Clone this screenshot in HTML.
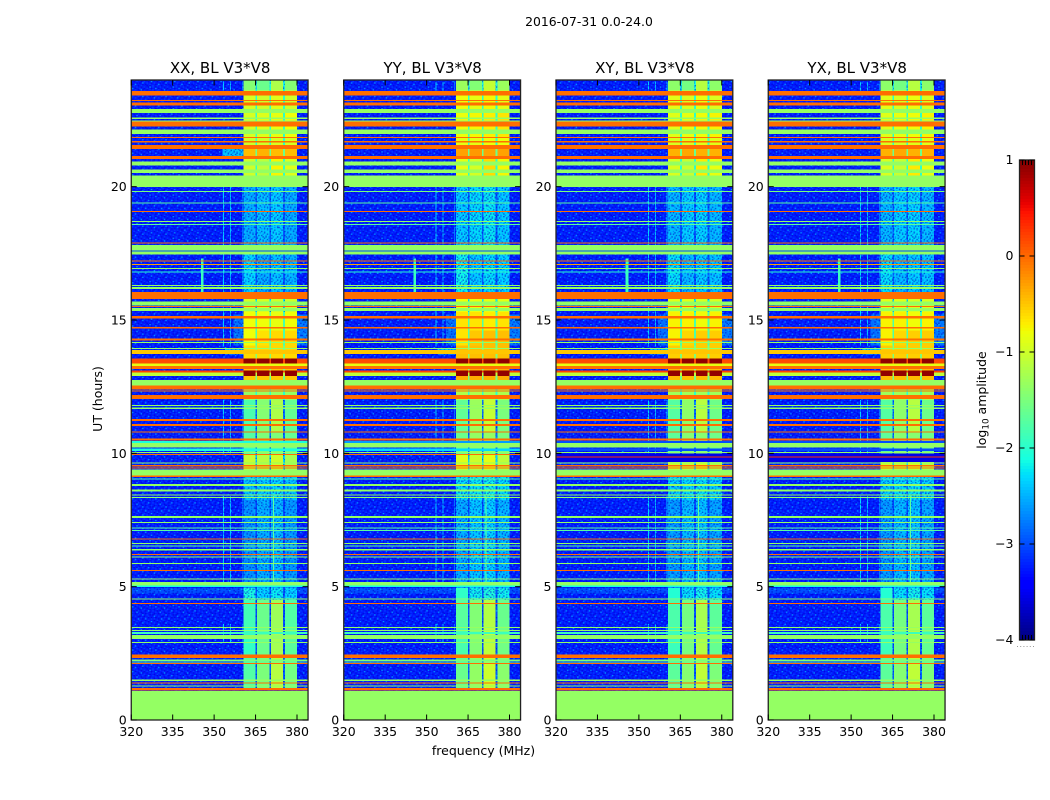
<!DOCTYPE html>
<html lang="en">
<head>
<meta charset="utf-8">
<title>2016-07-31 dynamic spectra, BL V3*V8</title>
<style>
html,body{margin:0;padding:0;background:#fff;width:1050px;height:800px;overflow:hidden}
svg{display:block}
text{font-family:"DejaVu Sans","Liberation Sans",sans-serif;fill:#000}
</style>
</head>
<body>
<svg id="fig" xmlns="http://www.w3.org/2000/svg" width="1050" height="800" viewBox="0 0 1050 800">
  <rect width="1050" height="800" fill="#fff"/>
  <defs id="defs"></defs>
  <text x="589" y="26" font-size="12.4" text-anchor="middle">2016-07-31 0.0-24.0</text>
  <text x="483.5" y="755" font-size="12.5" text-anchor="middle">frequency (MHz)</text>
  <text transform="translate(102,399) rotate(-90)" font-size="12.5" text-anchor="middle">UT (hours)</text>
  <text transform="translate(986,400) rotate(-90)" font-size="12.5" text-anchor="middle">log<tspan font-size="8.8" dy="2.5">10</tspan><tspan dy="-2.5"> amplitude</tspan></text>
  <g id="panels"></g>
  <g id="colorbar"></g>
</svg>
<script>
// ---- chart data (hours UT, MHz, log10 amplitude) ----
const panelTitles = ['XX, BL V3*V8', 'YY, BL V3*V8', 'XY, BL V3*V8', 'YX, BL V3*V8'];
const xTicks = [320, 335, 350, 365, 380];
const yTicks = [0, 5, 10, 15, 20];
const cbarTicks = [1, 0, -1, -2, -3, -4];
const freqRange = [320, 384];
const timeRange = [0, 24];
const ampRange = [-4, 1];
const backgroundLevel = -3.25;
const subbands = [[360.6, 364.9], [365.6, 370], [370.6, 374.9], [375.6, 380]];
const panelBandGain = [0, 0.14, 0.06, 0.06];

// uStart, uEnd, sub-band 1..4 levels, gap level
const bandEpochs = [
  [24, 23.6, -1.45, -1.6, -1.2, -1.45, -2.1],
  [23.6, 22.76, -0.95, -1.0, -0.9, -1.0, -2.0],
  [22.76, 21.86, -0.95, -0.9, -0.85, -0.8, -2.0],
  [21.86, 21.41, -1.0, -1.0, -0.95, -0.95, -2.0],
  [21.41, 21.15, -0.45, -0.4, -0.45, -0.45, -1.6],
  [21.15, 20.4, -1.0, -1.1, -0.75, -0.9, -2.0],
  [20.4, 17.8, -2.5, -2.4, -2.35, -2.5, -2.95],
  [17.8, 16.05, -2.3, -2.5, -2.4, -2.45, -2.95],
  [16.05, 15.3, -0.95, -0.95, -1.0, -1.0, -2.2],
  [15.3, 14.6, -0.8, -0.8, -0.85, -0.8, -1.8],
  [14.6, 14.05, -0.8, -0.65, -0.6, -0.6, -1.8],
  [14.05, 13.37, -0.6, -0.6, -0.6, -0.6, -1.5],
  [13.37, 12.9, -0.5, -0.5, -0.5, -0.5, -1.5],
  [12.9, 12.75, -0.5, -0.5, -0.5, -0.5, -1.6],
  [12.75, 12, -1.35, -1.35, -1.35, -1.35, -2.0],
  [12, 10.8, -1.8, -1.45, -1.2, -1.65, -2.8],
  [10.8, 9.95, -1.75, -1.5, -1.5, -1.65, -2.8],
  [9.95, 9.15, -1.05, -1.15, -1.0, -1.25, -2.3],
  [9.15, 8.25, -2.4, -2.35, -2.3, -2.4, -2.85],
  [8.25, 4.95, -2.65, -2.5, -2.45, -2.6, -3.05],
  [4.95, 4.5, -2.1, -2.3, -2.2, -2.3, -2.95],
  [4.5, 3.5, -1.85, -1.6, -1.3, -1.75, -3.0],
  [3.5, 2.45, -1.95, -1.6, -1.25, -1.7, -3.0],
  [2.45, 1.1, -1.75, -1.5, -1.15, -1.55, -2.9]
];

// fStart, fEnd, uStart, uEnd, level, panels: localized emission outside the band
const glowPatches = [
  [353, 360.6, 21.41, 21.15, -2.4, [0]],
  [354, 360.6, 13.95, 13.7, -2.4, [0, 1, 2, 3]],
  [357, 360.6, 15.2, 14.05, -2.8, [0, 1, 2, 3]],
  [380, 384, 15.2, 14.05, -2.75, [0, 1, 2, 3]],
  [345.2, 346.2, 17.3, 16.0, -1.9, [0, 1, 2, 3]],
  [320, 384, 4.95, 4.75, -3.0, [0, 1, 2, 3]]
];
const rfiLines = [[353.3, -2.3], [355.8, -2.4], [360, -2.3]];
const rfiSpans = [[23.95, 23.6], [20, 15.9], [15.5, 14], [12, 10], [8.4, 5.05], [3.6, 2.9]];
const bandLine = [371.4, 8.4, 5.05, -1.7];

const G = -1.35, O = -0.03, P = -1.7, C = -2.1;
// uStart, uEnd, level: broadband rows across all channels
const flagRows = [
  [23.58,23.41,O],[23.25,23.21,O],[23.15,23.04,O],[22.91,22.76,G],[22.59,22.53,G],[22.49,22.44,G],
  [22.44,22.26,O],[22.14,21.98,G],[21.86,21.83,O],[21.72,21.65,O],[21.56,21.41,O],[21.15,21.04,O],
  [20.95,20.79,G],[20.64,20.51,G],[20.41,19.99,G],[19.84,19.80,-1.5],[19.40,19.36,P],[19.09,19.05,O],
  [18.71,18.68,G],[18.6,18.56,P],[17.91,17.89,O],[17.81,17.6,G],[17.6,17.56,-3],[17.56,17.46,G],
  [17.24,17.20,O],[17.1,17.06,-0.3],[16.95,16.91,G],[16.81,16.78,-2],[16.31,16.28,G],[16.23,16.16,G],
  [16.05,15.79,O],[15.70,15.55,G],[15.53,15.49,O],[15.45,15.34,G],[15.15,15.05,O],[14.73,14.69,O],
  [14.31,14.24,O],[14.18,14.14,G],[13.95,13.91,G],[13.88,13.73,-0.5],[13.55,13.37,0.15],[13.37,13.22,-0.85],
  [13.28,13.16,-0.05],[13.10,13.03,0.2],[13.03,12.9,-1.1],[12.75,12.55,G],[12.54,12.40,O],[12.36,12.32,O],
  [12.19,12.04,O],[11.81,11.78,G],[11.71,11.67,G],[11.29,11.21,O],[11.10,11.03,O],[10.82,10.79,O],
  [10.56,10.49,O],[10.38,10.21,G],[10.05,10.01,G],[9.98,9.94,O],
  [9.66,9.62,G],[9.57,9.50,O],[9.47,9.45,O],[9.39,9.17,G],[9.16,9.12,O],[9.06,9.03,-1.8],
  [8.85,8.78,G],[8.64,8.57,G],[8.46,8.43,G],[8.37,8.34,G],[7.65,7.58,G],[7.43,7.39,G],
  [7.22,7.18,P],[7.13,7.09,P],[6.81,6.77,O],[6.64,6.6,G],[6.54,6.51,P],[6.42,6.36,G],
  [6.23,6.19,O],[6.13,6.09,G],[5.89,5.85,G],[5.63,5.59,O],[5.31,5.28,G],[5.18,5.05,G],
  [5.05,4.98,C],[4.56,4.52,G],[4.39,4.35,O],[3.49,3.45,G],[3.38,3.34,G],[3.3,3.23,-1.9],
  [3.19,3.04,G],[2.93,2.89,G],[2.46,2.33,O],[2.26,2.21,-1.5],[2.19,2.16,P],[2.13,2.1,O],
  [1.52,1.46,G],[1.40,1.36,O],[1.30,1.26,G],[1.20,1.10,O],[1.09,0,G]
];
// panel, uStart, uEnd, level: rows that exist in only some products
const panelRows = [
  [0,10.46,10.39,C],[0,10.19,10.09,C],
  [1,10.46,10.39,-2.6],[1,10.19,10.09,-2.3],
  [2,10.0,9.68,-3.55],[2,9.88,9.85,0.3],[2,10.46,10.39,-3.0],[2,10.19,10.09,-3.0],
  [3,10.0,9.68,-3.55],[3,9.88,9.85,0.3],[3,10.46,10.39,-3.0],[3,10.19,10.09,-3.0]
];
// uStart, uEnd, level: saturated band-only intervals
const hotBand = [[13.55, 13.37, 0.92], [13.10, 12.9, 0.92]];
// fine-grain texture, amplitude classes per sample (. none, 1 lower, 2 higher, 3 peak)
const speckleTile = [
  '.1.2..13.2.1..2.',
  '2..1.2..1..3.1..',
  '.31..1.2.2...2.1',
  '1..2...1..1.2...',
  '..2.1.3..2..1.12',
  '.1...2.1...2..3.',
  '2.1.1...2.1..1..',
  '..3..2.1.1.2...2',
  '1..1..2...3..2.1',
  '.2..2.1.1..1....',
  '..1.3...2.2..1.3',
  '2...1.2...1.2...',
  '.1.2..1.3...1.2.',
  '1.3..2..1.2...1.',
  '..1.1..2...1.3..',
  '.2...1.1.2..2..1'
];

// ---- geometry (layout only) ----
const panelLefts = [131.25, 343.75, 556, 768.25];
const panelW = 176.8, panelTop = 80, panelH = 640;
const cbarX = 1019.5, cbarW = 15, cbarTop = 160, cbarH = 480;

const NS = 'http://www.w3.org/2000/svg';
function mk(tag, attrs, parent) {
  const el = document.createElementNS(NS, tag);
  for (const k in attrs) el.setAttribute(k, attrs[k]);
  parent.appendChild(el);
  return el;
}
function jet(t) {
  t = Math.max(0, Math.min(1, t));
  const seg = (pts) => {
    for (let i = 1; i < pts.length; i++) {
      if (t <= pts[i][0]) {
        const a = pts[i - 1], b = pts[i];
        return a[1] + (b[1] - a[1]) * (t - a[0]) / (b[0] - a[0]);
      }
    }
    return pts[pts.length - 1][1];
  };
  const r = seg([[0, 0], [0.35, 0], [0.66, 1], [0.89, 1], [1, 0.5]]);
  const g = seg([[0, 0], [0.125, 0], [0.375, 1], [0.64, 1], [0.91, 0], [1, 0]]);
  const b = seg([[0, 0.5], [0.11, 1], [0.34, 1], [0.65, 0], [1, 0]]);
  return 'rgb(' + Math.round(r * 255) + ',' + Math.round(g * 255) + ',' + Math.round(b * 255) + ')';
}
const colorOf = (v) => jet((v - ampRange[0]) / (ampRange[1] - ampRange[0]));
const xAt = (i, f) => panelLefts[i] + (f - freqRange[0]) / (freqRange[1] - freqRange[0]) * panelW;
const yAt = (u) => panelTop + panelH - (u - timeRange[0]) / (timeRange[1] - timeRange[0]) * panelH;

// speckle pattern
const defs = document.getElementById('defs');
const cellW = 1.45, cellH = 1.35;
const tileW = 16 * cellW, tileH = 16 * cellH;
const pat = mk('pattern', {id: 'speckle', patternUnits: 'userSpaceOnUse', width: tileW, height: tileH}, defs);
const speckleFill = {'1': 'rgba(0,0,200,.6)', '2': 'rgba(0,90,255,.6)', '3': 'rgba(0,190,255,.75)'};
speckleTile.forEach((row, r) => {
  [...row].forEach((ch, c) => {
    if (speckleFill[ch]) {
      mk('rect', {x: c * cellW, y: r * cellH, width: cellW, height: cellH, fill: speckleFill[ch]}, pat);
    }
  });
});

const panelsG = document.getElementById('panels');
panelTitles.forEach((title, i) => {
  const g = mk('g', {}, panelsG);
  
  
  const clipId = 'clip' + i;
  const cp = mk('clipPath', {id: clipId}, defs);
  mk('rect', {x: panelLefts[i], y: panelTop, width: panelW, height: panelH}, cp);
  const hm = mk('g', {'clip-path': 'url(#' + clipId + ')', 'shape-rendering': 'crispEdges'}, g);
  
  

  const cell = (f0, f1, u0, u1, level, name) => {
    const x0 = xAt(i, f0), x1 = xAt(i, f1), y0 = yAt(u0), y1 = yAt(u1);
    const r = mk('rect', {x: x0, y: y0, width: x1 - x0, height: Math.max(y1 - y0, 1), fill: colorOf(level)}, hm);
    
    
    if (level < -2.05 && name !== 'flag-row') {
      const s = mk('rect', {x: x0, y: y0, width: x1 - x0, height: y1 - y0, fill: 'url(#speckle)'}, hm);
      
      
    }
  };

  cell(freqRange[0], freqRange[1], timeRange[1], timeRange[0], backgroundLevel, 'background-cell');
  rfiLines.forEach((ln) => {
    rfiSpans.forEach((sp) => {
      cell(ln[0], ln[0] + 0.35, sp[0], sp[1], ln[1], 'rfi-channel');
    });
  });
  glowPatches.forEach((p) => {
    if (p[5].includes(i)) cell(p[0], p[1], p[2], p[3], p[4], 'glow-patch');
  });
  bandEpochs.forEach((ep) => {
    const gain = panelBandGain[i];
    cell(subbands[0][0], subbands[3][1], ep[0], ep[1], ep[6], 'band-gap');
    subbands.forEach((sb, k) => {
      cell(sb[0], sb[1], ep[0], ep[1], ep[2 + k] + gain, 'band-cell');
    });
  });
  cell(bandLine[0], bandLine[0] + 0.35, bandLine[1], bandLine[2], bandLine[3], 'rfi-channel');
  flagRows.forEach((row) => {
    cell(freqRange[0], freqRange[1], row[0], row[1], row[2], 'flag-row');
  });
  panelRows.forEach((row) => {
    if (row[0] === i) cell(freqRange[0], freqRange[1], row[1], row[2], row[3], 'flag-row');
  });
  hotBand.forEach((row) => {
    subbands.forEach((sb) => {
      cell(sb[0], sb[1], row[0], row[1], row[2], 'hot-band-cell');
    });
  });

  // frame
  const fr = mk('rect', {x: panelLefts[i], y: panelTop, width: panelW, height: panelH, fill: 'none', stroke: '#222', 'stroke-width': 1.3}, g);
  
  

  // title
  const t = mk('text', {x: panelLefts[i] + panelW / 2 + 0.5, y: 73, 'font-size': 15, 'text-anchor': 'middle'}, g);
  t.textContent = title;
  
  

  // ticks
  xTicks.forEach((v) => {
    const x = xAt(i, v);
    const a = mk('line', {x1: x, x2: x, y1: panelTop + panelH, y2: panelTop + panelH - 5.5, stroke: '#000'}, g);
    
    
    const b = mk('line', {x1: x, x2: x, y1: panelTop, y2: panelTop + 5.5, stroke: '#000'}, g);
    
    
    const l = mk('text', {x: x, y: 736, 'font-size': 12.5, 'text-anchor': 'middle'}, g);
    l.textContent = v;
    
    
  });
  yTicks.forEach((v) => {
    const y = yAt(v);
    const a = mk('line', {x1: panelLefts[i], x2: panelLefts[i] + 5.5, y1: y, y2: y, stroke: '#000'}, g);
    
    
    const b = mk('line', {x1: panelLefts[i] + panelW, x2: panelLefts[i] + panelW - 5.5, y1: y, y2: y, stroke: '#000'}, g);
    
    
    const l = mk('text', {x: panelLefts[i] - 4.5, y: y + 4.5, 'font-size': 12.5, 'text-anchor': 'end'}, g);
    l.textContent = v;
    
    
  });
});

// colorbar
const cb = document.getElementById('colorbar');
const cbY = (v) => cbarTop + (ampRange[1] - v) / (ampRange[1] - ampRange[0]) * cbarH;
const cbSteps = 160;
for (let s = 0; s < cbSteps; s++) {
  const v0 = ampRange[1] - (s / cbSteps) * (ampRange[1] - ampRange[0]);
  const v1 = ampRange[1] - ((s + 1) / cbSteps) * (ampRange[1] - ampRange[0]);
  const r = mk('rect', {x: cbarX, y: cbY(v0), width: cbarW, height: cbY(v1) - cbY(v0) + 0.5, fill: colorOf((v0 + v1) / 2), 'shape-rendering': 'crispEdges'}, cb);
  
  
}
const cbFrame = mk('rect', {x: cbarX, y: cbarTop, width: cbarW, height: cbarH, fill: 'none', stroke: '#222', 'stroke-width': 1.3}, cb);


cbarTicks.forEach((v) => {
  const y = cbY(v);
  const a = mk('line', {x1: cbarX, x2: cbarX + 5, y1: y, y2: y, stroke: '#000'}, cb);
  
  
  const b = mk('line', {x1: cbarX + cbarW, x2: cbarX + cbarW - 5, y1: y, y2: y, stroke: '#000'}, cb);
  
  
  const l = mk('text', {x: 1013.5, y: y + 4.2, 'font-size': 12.5, 'text-anchor': 'end'}, cb);
  l.textContent = v < 0 ? '\u2212' + Math.abs(v) : String(v);
  
  
});
[0.2, 0.4, 0.6, 0.8].forEach((frac) => {
  const x = cbarX + frac * cbarW;
  const a = mk('line', {x1: x, x2: x, y1: cbarTop, y2: cbarTop + 5, stroke: '#000'}, cb);
  
  
  const b = mk('line', {x1: x, x2: x, y1: cbarTop + cbarH, y2: cbarTop + cbarH - 5, stroke: '#000'}, cb);
  
  
});
const dots = mk('line', {x1: 1017, x2: 1035, y1: 646.5, y2: 646.5, stroke: '#999', 'stroke-width': 1, 'stroke-dasharray': '1 2.2'}, cb);


</script>
</body>
</html>
